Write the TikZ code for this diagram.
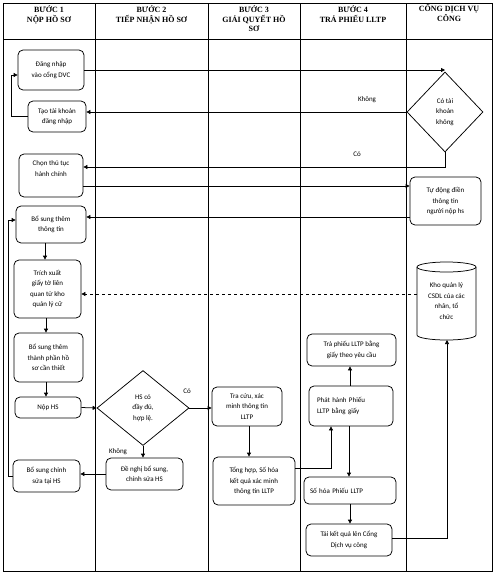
\documentclass[tikz,border=0pt]{standalone}
\usepackage{fontspec}
\setmainfont{Liberation Serif}
\newfontfamily\bodyf{Carlito}
\usetikzlibrary{arrows.meta,shapes.geometric}
\begin{document}
\begin{tikzpicture}[x=1pt,y=-1pt,line width=0.75pt,
  box/.style={draw, rounded corners=5pt, align=center, inner sep=1pt,
    font=\bodyf\fontsize{7}{10.5}\selectfont},
  lbox/.style={box, align=left, text width=#1},
  dia/.style={draw, diamond, align=center, inner sep=0pt,
    font=\bodyf\fontsize{7}{10.5}\selectfont},
  hdr/.style={anchor=north, align=center, inner sep=0pt,
    font=\bfseries\fontsize{8}{9.8}\selectfont},
  lbl/.style={inner sep=0pt, font=\bodyf\fontsize{7}{8}\selectfont},
  ar/.style={-{Triangle[length=4pt,width=4pt]}}]
\useasboundingbox (0,0) rectangle (495,574);
% frame and lanes
\draw (3,3) rectangle (492,571);
\draw (3,39) -- (492,39);
\foreach \x in {95,208,300,406} \draw (\x,3) -- (\x,571);
\node[hdr] (h1) at (49,5) {BƯỚC 1\\NỘP HỒ SƠ};
\node[hdr] (h2) at (151.5,5) {BƯỚC 2\\TIẾP NHẬN HỒ SƠ};
\node[hdr] (h3) at (254,5) {BƯỚC 3\\GIẢI QUYẾT HỒ\\SƠ};
\node[hdr] (h4) at (353,5) {BƯỚC 4\\TRẢ PHIẾU LLTP};
\node[hdr] (h5) at (449,4) {CỔNG DỊCH VỤ\\CÔNG};
% nodes
\node[box, minimum width=66, minimum height=40] (dn) at (51,70) {Đăng nhập\\vào cổng DVC};
\node[box, minimum width=58, minimum height=31] (tk) at (57,116.5) {Tạo tài khoản\\đăng nhập};
\node[box, minimum width=64, minimum height=43] (ct) at (51,175.5) {Chọn thủ tục\\hành chính\\[3pt]};
\node[dia, minimum width=76, minimum height=80] (ck) at (445,112) {Có tài\\khoản\\không};
\node[box, minimum width=71, minimum height=48] (td) at (445.5,201) {Tự động điền\\thông tin\\người nộp hs};
\node[box, minimum width=70, minimum height=37] (bs) at (51,224.5) {Bổ sung thêm\\thông tin};
\node[box, minimum width=67, minimum height=58] (tx) at (47.5,289) {Trích xuất\\giấy tờ liên\\quan từ kho\\quản lý cữ};
\node[box, minimum width=69, minimum height=49] (bt) at (48.5,357.5) {Bổ sung thêm\\thành phần hồ\\sơ cần thiết};
\node[box, minimum width=66, minimum height=21] (np) at (48,407.5) {Nộp HS};
\node[dia, minimum width=92, minimum height=75] (hs) at (143,408) {HS có\\đầy đủ,\\hợp lệ.};
\node[box, minimum width=77, minimum height=32] (dg) at (144.5,474) {Đề nghị bổ sung,\\chỉnh sửa HS};
\node[box, minimum width=67, minimum height=32] (bc) at (46.5,476) {Bổ sung chỉnh\\sửa tại HS};
\node[box, minimum width=70, minimum height=39] (tc) at (247,406.5) {Tra cứu, xác\\minh thông tin\\LLTP};
\node[box, minimum width=82, minimum height=48] (th) at (254,481) {Tổng hợp, Số hóa\\kết quả xác minh\\thông tin LLTP};
\node[lbox=68, minimum width=84, minimum height=40] (ph) at (351,406) {Phát hành Phiếu\\LLTP bằng giấy\\[5pt]};
\node[box, minimum width=89, minimum height=32] (tp) at (351.5,350) {Trả phiếu LLTP bằng\\giấy theo yêu cầu};
\node[lbox=80, minimum width=92, minimum height=27] (sh) at (350,490.5) {Số hóa Phiếu LLTP};
\node[box, minimum width=86, minimum height=32] (tl) at (349,540) {Tải kết quả lên Cổng\\Dịch vụ công};
% cylinder
\node[align=center, inner sep=0pt, minimum width=59, minimum height=78,
  font=\bodyf\fontsize{7}{10.5}\selectfont] (kho) at (446.5,301) {Kho quản lý\\CSDL của các\\nhân, tổ\\chức};
\draw (417,267) -- (417,335) arc[start angle=180, end angle=360, x radius=29.5, y radius=-5] -- (476,267);
\draw (446.5,267) ellipse [x radius=29.5, y radius=5];
% connectors
\draw[ar] (dn.east) -- (dn.east -| ck.north);
\draw[ar] (ck.west) -- (tk.east |- ck.west);
\node[lbl] (lk1) at (367,100) {Không};
\draw[ar] (tk.west) -- (11,0 |- tk.west) -- (11,75) -- (dn.west |- 11,75);
\draw[ar] (ck.south) -- (ck.south |- 0,167) -- (ct.east |- 0,167);
\node[lbl] (lc1) at (357,154) {Có};
\draw[ar] (ct.east |- 0,186) -- (td.west |- 0,186);
\draw[ar] (td.west |- 0,217) -- (bs.east |- 0,217);
\draw[ar] (45,0 |- bs.south) -- (45,0 |- tx.north);
\draw[ar] (46,0 |- tx.south) -- (46,0 |- bt.north);
\draw[ar] (46,0 |- bt.south) -- (46,0 |- np.north);
\draw[ar, dashed] (kho.west |- 0,294) -- (tx.east |- 0,294);
\draw[ar] (np.east) -- (hs.west);
\draw[ar] (hs.east) -- (tc.west |- hs.east);
\node[lbl] (lc2) at (187,391) {Có};
\draw[ar] (hs.south) -- (hs.south |- dg.north);
\node[lbl] (lk2) at (118,452) {Không};
\draw[ar] (dg.west) -- (bc.east |- dg.west);
\draw[ar] (bc.west) -- (8,0 |- bc.west) -- (8,220) -- (bs.west |- 8,220);
\draw[ar] (249,0 |- tc.south) -- (249,0 |- th.north);
\draw[ar] (th.east |- 0,468) -- (331,468) -- (331,0 |- ph.south);
\draw[ar] (350,0 |- ph.north) -- (350,0 |- tp.south);
\draw[ar] (349,0 |- ph.south) -- (349,0 |- sh.north);
\draw[ar] (350,0 |- sh.south) -- (350,0 |- tl.north);
\draw[ar] (tl.east |- 0,538) -- (447,538) -- (447,340);
\end{tikzpicture}
\end{document}
